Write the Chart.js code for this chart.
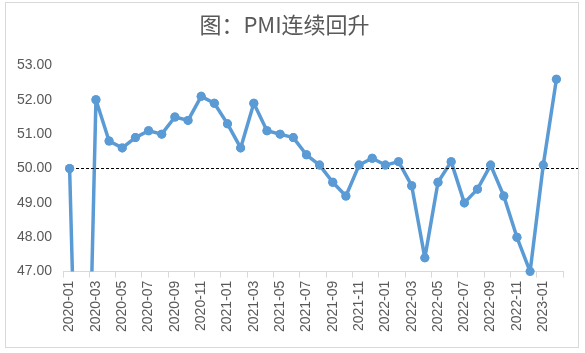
<!DOCTYPE html>
<html>
<head>
<meta charset="utf-8">
<script src="https://cdn.jsdelivr.net/npm/chart.js@4"></script>
<style>
  html, body { margin: 0; padding: 0; background: #fff; }
  #wrap { position: relative; width: 585px; height: 353px; }
  #frame { position: absolute; left: 5px; top: 2px; width: 574px; height: 346px; border: 1px solid #d9d9d9; box-sizing: border-box; pointer-events: none; }
</style>
</head>
<body>
<div id="wrap">
  <canvas id="chart"></canvas>
  <div id="frame"></div>
</div>
<script>
// 월별 PMI
var months = [
  '2020-01','2020-02','2020-03','2020-04','2020-05','2020-06','2020-07','2020-08','2020-09','2020-10','2020-11','2020-12',
  '2021-01','2021-02','2021-03','2021-04','2021-05','2021-06','2021-07','2021-08','2021-09','2021-10','2021-11','2021-12',
  '2022-01','2022-02','2022-03','2022-04','2022-05','2022-06','2022-07','2022-08','2022-09','2022-10','2022-11','2022-12',
  '2023-01','2023-02'
];
var pmi = [
  50.0, 35.7, 52.0, 50.8, 50.6, 50.9, 51.1, 51.0, 51.5, 51.4, 52.1, 51.9,
  51.3, 50.6, 51.9, 51.1, 51.0, 50.9, 50.4, 50.1, 49.6, 49.2, 50.1, 50.3,
  50.1, 50.2, 49.5, 47.4, 49.6, 50.2, 49.0, 49.4, 50.1, 49.2, 48.0, 47.0,
  50.1, 52.6
];
var yTicks = [47, 48, 49, 50, 51, 52, 53];
var threshold = 50;

var gray = '#595959';

// 50 기준 점선
var thresholdLine = {
  id: 'thresholdLine',
  afterDatasetsDraw: function (chart) {
    var ctx = chart.ctx;
    var y = chart.scales.y.getPixelForValue(threshold);
    ctx.save();
    ctx.strokeStyle = '#000';
    ctx.lineWidth = 1;
    ctx.setLineDash([3, 2]);
    ctx.beginPath();
    ctx.moveTo(chart.chartArea.left + 3, y);
    ctx.lineTo(chart.width - 5, y);
    ctx.stroke();
    ctx.restore();

    // 축 아래로 걸치는 점도 잘리지 않게 다시 그림
    var meta = chart.getDatasetMeta(0);
    var area = chart.chartArea;
    meta.data.forEach(function (p) {
      p.draw(ctx, area);
    });
  }
};

new Chart(document.getElementById('chart'), {
  type: 'line',
  data: {
    labels: months,
    datasets: [{
      data: pmi,
      borderColor: '#5B9BD5',
      backgroundColor: '#5B9BD5',
      borderWidth: 3.5,
      borderJoinStyle: 'round',
      borderCapStyle: 'round',
      pointRadius: 4.5,
      pointBorderWidth: 0,
      pointBackgroundColor: '#5B9BD5',
      tension: 0
    }]
  },
  options: {
    responsive: true,
    maintainAspectRatio: false,
    animation: false,
    layout: {
      padding: { left: 6, right: 22, top: 0, bottom: 18 }
    },
    plugins: {
      legend: { display: false },
      tooltip: { enabled: false },
      title: {
        display: true,
        text: '图：PMI连续回升',
        color: gray,
        font: { family: '"Noto Sans CJK SC", "Liberation Sans", sans-serif', size: 22, weight: 'normal' },
        padding: { top: 11, bottom: 28 }
      }
    },
    scales: {
      x: {
        offset: true,
        grid: {
          offset: true,
          drawOnChartArea: false,
          drawTicks: true,
          tickLength: 6,
          color: function (ctx) {
            return (ctx.index === undefined || ctx.index % 2 === 0) ? '#d9d9d9' : 'rgba(0,0,0,0)';
          }
        },
        border: { display: true, color: '#d9d9d9', width: 1 },
        ticks: {
          autoSkip: false,
          minRotation: 90,
          maxRotation: 90,
          padding: 3,
          color: gray,
          font: { family: '"Liberation Sans", Arial, sans-serif', size: 14 },
          callback: function (val, index) {
            return index % 2 === 0 ? this.getLabelForValue(val) : '';
          }
        }
      },
      y: {
        min: yTicks[0],
        max: yTicks[yTicks.length - 1],
        afterBuildTicks: function (scale) {
          scale.ticks = yTicks.map(function (v) { return { value: v }; });
        },
        grid: { display: false, drawTicks: false },
        border: { display: false },
        ticks: {
          padding: 11,
          color: gray,
          font: { family: '"Liberation Sans", Arial, sans-serif', size: 14 },
          callback: function (v) { return Number(v).toFixed(2); }
        }
      }
    }
  },
  plugins: [thresholdLine]
});
</script>
</body>
</html>
